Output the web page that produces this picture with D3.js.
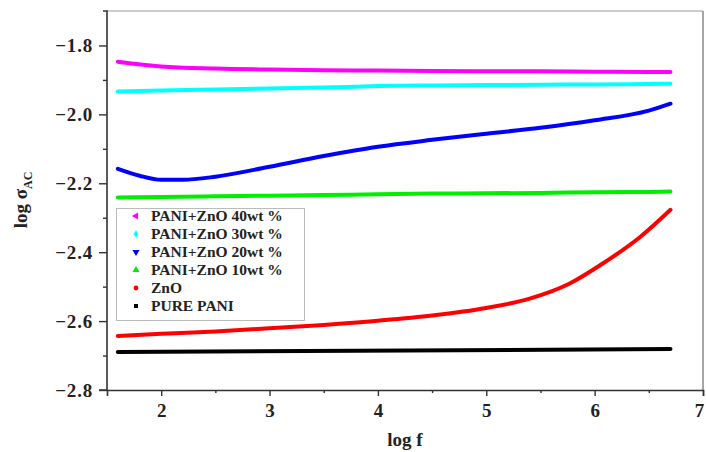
<!DOCTYPE html>
<html><head><meta charset="utf-8">
<script src="https://cdn.jsdelivr.net/npm/d3@7"></script>
<style>body{margin:0;background:#fff}svg{display:block}</style>
</head><body>
<svg id="c" width="706" height="452"></svg>
<script>
const logF = [1.6, 2.0, 2.5, 3.0, 3.5, 4.0, 4.5, 5.0, 5.5, 6.0, 6.5, 6.7];
const pani40 = [-1.847, -1.861, -1.867, -1.870, -1.872, -1.873, -1.874, -1.875, -1.875, -1.876, -1.877, -1.877];
const pani30 = [-1.934, -1.931, -1.928, -1.925, -1.922, -1.918, -1.916, -1.915, -1.914, -1.913, -1.912, -1.911];
const pani20X = [1.6, 1.8, 2.0, 2.2, 2.5, 3.0, 3.5, 4.0, 4.5, 5.0, 5.5, 6.0, 6.5, 6.7];
const pani20 = [-2.158, -2.178, -2.190, -2.190, -2.181, -2.152, -2.121, -2.094, -2.074, -2.056, -2.039, -2.017, -1.989, -1.969];
const pani10 = [-2.241, -2.240, -2.238, -2.236, -2.234, -2.232, -2.230, -2.229, -2.228, -2.226, -2.225, -2.224];
const znoX = [1.6, 2.0, 2.5, 3.0, 3.5, 4.0, 4.5, 5.0, 5.4, 5.77, 6.05, 6.42, 6.7];
const zno = [-2.643, -2.637, -2.630, -2.621, -2.611, -2.599, -2.584, -2.562, -2.535, -2.491, -2.438, -2.356, -2.277];
const pureX = [1.6, 6.7];
const pure = [-2.690, -2.681];
const seriesNames = ["PANI+ZnO 40wt %", "PANI+ZnO 30wt %", "PANI+ZnO 20wt %", "PANI+ZnO 10wt %", "ZnO", "PURE PANI"];
const seriesColors = ["#ff00ff", "#00ffff", "#0000ff", "#00ee00", "#ff0000", "#000000"];
const xTicks = [2, 3, 4, 5, 6, 7];
const yTicks = [-1.8, -2.0, -2.2, -2.4, -2.6, -2.8];

const series = [
  {x: logF, y: pani40}, {x: logF, y: pani30}, {x: pani20X, y: pani20},
  {x: logF, y: pani10}, {x: znoX, y: zno}, {x: pureX, y: pure}
];
const symbols = [
  d3.symbol().type(d3.symbolTriangle).size(22),
  d3.symbol().type(d3.symbolDiamond).size(18),
  d3.symbol().type(d3.symbolTriangle).size(22),
  d3.symbol().type(d3.symbolTriangle).size(22),
  d3.symbol().type(d3.symbolCircle).size(18),
  d3.symbol().type(d3.symbolSquare).size(16)
];
const rot = [-90, 0, 180, 0, 0, 0];

const L = 107, R = 703, T = 11, B = 390;
const svg = d3.select("#c");
const x = d3.scaleLinear().domain([1.5, 7]).range([L, R]);
const y = d3.scaleLinear().domain([-2.8, -1.7]).range([B, T]);
const fmt = d => d3.format(".1f")(d).replace("-", "\u2212");
const font = "'Liberation Serif','Times New Roman',serif";

// frame
svg.append("line").attr("x1", L).attr("x2", R).attr("y1", T).attr("y2", T).attr("stroke", "#999").attr("stroke-width", 1.2);
svg.append("line").attr("x1", R).attr("x2", R).attr("y1", T).attr("y2", B).attr("stroke", "#888").attr("stroke-width", 1.5);

// lines
const line = d3.line().curve(d3.curveMonotoneX);
series.forEach((s, i) => {
  const pts = s.x.map((v, j) => [x(v), y(s.y[j])]);
  svg.append("path").attr("d", line(pts)).attr("fill", "none")
    .attr("stroke", seriesColors[i]).attr("stroke-width", 4).attr("stroke-linecap", "round");
});

// axes
const yAxis = d3.axisLeft(y).tickValues(yTicks).tickFormat(fmt).tickSize(8).tickPadding(6);
const yMinor = d3.axisLeft(y).tickValues([-1.9, -2.1, -2.3, -2.5, -2.7]).tickFormat("").tickSize(4);
const gy = svg.append("g").attr("transform", `translate(${L},0)`).call(yAxis);
svg.append("g").attr("transform", `translate(${L},0)`).call(yMinor).select(".domain").remove();
const xAxis = d3.axisBottom(x).tickValues(xTicks).tickFormat(d3.format("d")).tickSize(6).tickPadding(8);
const xMinor = d3.axisBottom(x).tickValues([2.5, 3.5, 4.5, 5.5, 6.5]).tickFormat("").tickSize(3);
const gx = svg.append("g").attr("transform", `translate(0,${B})`).call(xAxis);
svg.append("g").attr("transform", `translate(0,${B})`).call(xMinor).select(".domain").remove();
svg.selectAll(".domain").attr("stroke", "#333").attr("stroke-width", 1.6);
svg.selectAll(".tick line").attr("stroke", "#333").attr("stroke-width", 1.4);
svg.selectAll(".tick text").attr("font-family", font).attr("font-weight", "bold")
  .attr("font-size", 19).attr("fill", "#222");
gy.selectAll(".tick text").attr("letter-spacing", 0.8);
gx.selectAll(".tick text").filter(d => d === 7).attr("dx", -4);
// extend left axis to top
gy.select(".domain").attr("d", `M-8,${B}H0V${T}H-4`);

// axis titles
const yl = svg.append("text").attr("transform", "translate(27,200) rotate(-90)")
  .attr("text-anchor", "middle").attr("font-family", font).attr("font-weight", "bold").attr("font-size", 19).attr("fill", "#222");
yl.append("tspan").text("log \u03c3");
yl.append("tspan").text("AC").attr("font-size", 12).attr("dy", 5);
svg.append("text").attr("x", 405).attr("y", 446).attr("text-anchor", "middle")
  .attr("font-family", font).attr("font-weight", "bold").attr("font-size", 19).attr("fill", "#222").text("log f");

// legend
const lg = svg.append("g");
lg.append("rect").attr("x", 116.5).attr("y", 208.5).attr("width", 188).attr("height", 112)
  .attr("fill", "#fff").attr("stroke", "#bbb").attr("stroke-width", 1);
seriesNames.forEach((n, i) => {
  const yy = 216 + i * 18;
  lg.append("path").attr("d", symbols[i]()).attr("fill", seriesColors[i])
    .attr("transform", `translate(136,${yy}) rotate(${rot[i]})`);
  lg.append("text").attr("x", 151).attr("y", yy + 5).attr("font-family", font).attr("font-weight", "bold")
    .attr("font-size", 15.5).attr("fill", "#222").text(n);
});
</script>
</body></html>
